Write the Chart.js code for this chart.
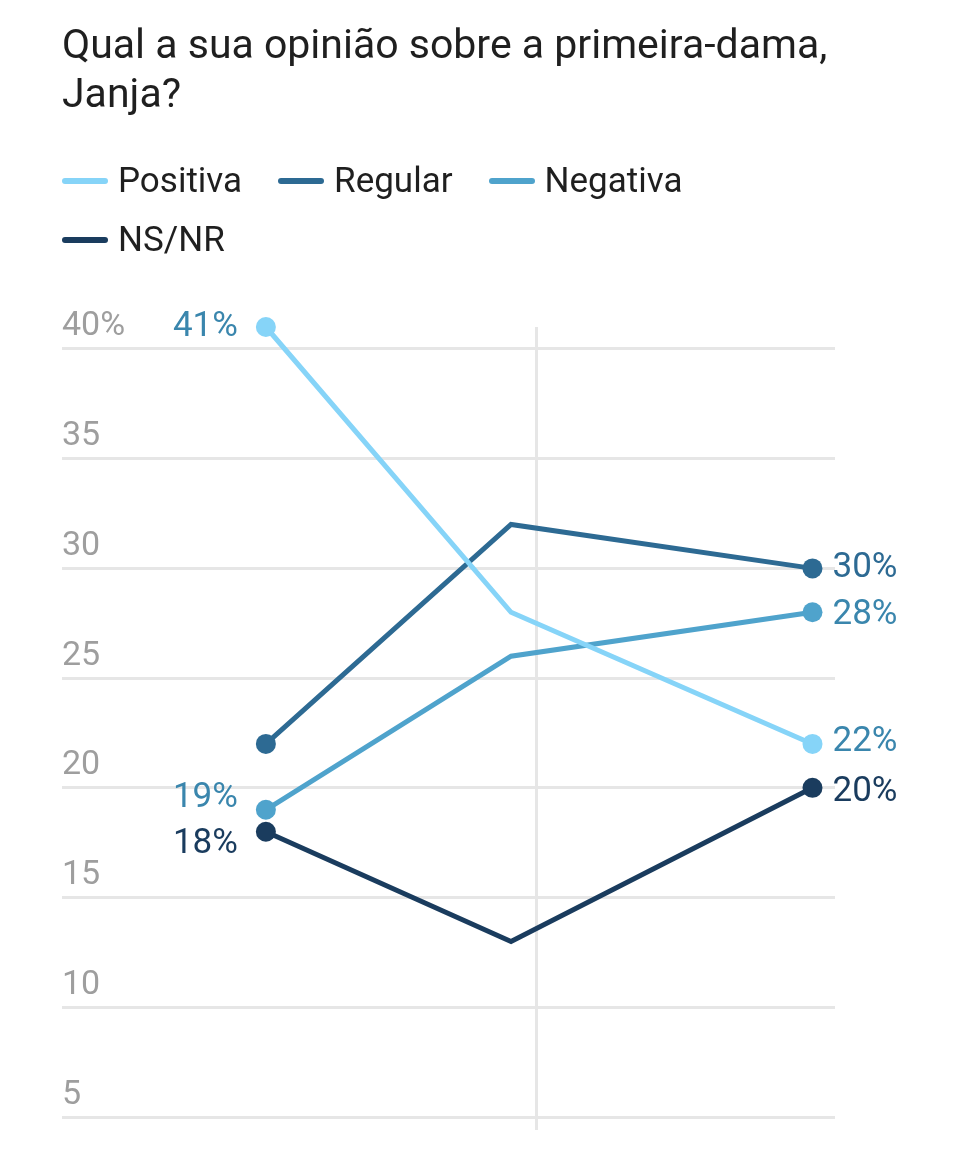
<!DOCTYPE html>
<html lang="pt">
<head>
<meta charset="utf-8">
<title>Opinião sobre a primeira-dama</title>
<script src="https://cdn.jsdelivr.net/npm/chart.js@4.4.1/dist/chart.umd.min.js"></script>
<style>
  html, body { margin: 0; padding: 0; background: #fff; }
  body { width: 960px; height: 1171px; position: relative; overflow: hidden; font-family: Roboto, "Noto Sans", sans-serif; }
  #title { position: absolute; left: 62px; top: 20px; width: 880px; font-size: 41px; line-height: 49px; color: #1f1f1f; margin: 0; font-weight: 400; }
  #legend { position: absolute; left: 62px; top: 151px; width: 880px; }
  .legend-row { height: 59px; display: flex; align-items: center; }
  .legend-item { display: flex; align-items: center; font-size: 35px; color: #1f1f1f; margin-right: 36px; }
  .swatch { width: 46px; height: 6px; border-radius: 3px; margin-right: 10px; }
  #wrap { position: absolute; left: 0; top: 0; width: 960px; height: 1171px; }
</style>
</head>
<body>
<div id="wrap"><canvas id="chart" width="960" height="1171"></canvas></div>
<h1 id="title">Qual a sua opinião sobre a primeira-dama,<br>Janja?</h1>
<div id="legend"></div>

<script>
// ===== Data =====
const seriesNames = ["Positiva", "Regular", "Negativa", "NS/NR"];
const seriesColors = ["#86d4f8", "#2d6a93", "#4fa3cc", "#1a3c5e"];
const labelColors = ["#3a86ad", "#2d6a93", "#3a86ad", "#1a3c5e"];

// survey dates as months counted on the chart's time axis
const surveyMonths = [8.15, 17.95, 30];
const yearBreakMonth = 18.95;

const positiva = [41, 28, 22];
const regular = [22, 32, 30];
const negativa = [19, 26, 28];
const nsnr = [18, 13, 20];
const seriesValues = [positiva, regular, negativa, nsnr];

const yTicks = [5, 10, 15, 20, 25, 30, 35, 40];

// which end labels to show, and small vertical nudges to avoid overlap
const showFirstLabel = [true, false, true, true];
const firstLabelNudge = [0, 0, -12, 13];
const lastLabelNudge = [-2, 0, 3, 4];

// ===== Legend (HTML) =====
const legend = document.getElementById("legend");
const rows = [[0, 1, 2], [3]];
rows.forEach(r => {
    const row = document.createElement("div");
    row.className = "legend-row";
    r.forEach(i => {
        const item = document.createElement("div");
        item.className = "legend-item";
        item.innerHTML = `<span class="swatch" style="background:${seriesColors[i]}"></span>${seriesNames[i]}`;
        row.appendChild(item);
    });
    legend.appendChild(row);
});

// ===== End labels plugin =====
const endLabels = {
    id: "endLabels",
    afterDatasetsDraw(chart) {
        const c = chart.ctx;
        c.save();
        c.font = "35px Roboto, sans-serif";
        c.textBaseline = "middle";
        chart.data.datasets.forEach((ds, i) => {
            const pts = chart.getDatasetMeta(i).data;
            c.fillStyle = labelColors[i];
            if (showFirstLabel[i]) {
                const p = pts[0];
                c.textAlign = "right";
                c.fillText(ds.data[0].y + "%", p.x - 28, p.y + firstLabelNudge[i]);
            }
            const last = pts[pts.length - 1];
            c.textAlign = "left";
            c.fillText(ds.data[ds.data.length - 1].y + "%", last.x + 20, last.y + lastLabelNudge[i]);
        });
        c.restore();
    }
};

const datasets = seriesNames.map((name, i) => ({
    label: name,
    data: surveyMonths.map((m, j) => ({ x: m, y: seriesValues[i][j] })),
    borderColor: seriesColors[i],
    backgroundColor: seriesColors[i],
    borderWidth: 5,
    pointRadius: ctx => (ctx.dataIndex === 1 ? 0 : 10),
    pointHoverRadius: 10,
    pointBorderWidth: 0,
    tension: 0,
    clip: false
}));

new Chart(document.getElementById("chart").getContext("2d"), {
    type: "line",
    data: { datasets },
    options: {
        responsive: false,
        animation: false,
        layout: { padding: { top: 327, right: 125, left: 62, bottom: 41 } },
        scales: {
            x: {
                type: "linear",
                min: 0,
                max: 30.9,
                border: { display: false },
                grid: { color: "#e6e6e6", lineWidth: 3, drawTicks: true, tickLength: 13 },
                ticks: { display: false },
                afterBuildTicks: axis => { axis.ticks = [{ value: yearBreakMonth }]; }
            },
            y: {
                min: 5,
                max: 41,
                border: { display: false },
                grid: { color: "#e6e6e6", lineWidth: 3, drawTicks: false },
                afterBuildTicks: axis => { axis.ticks = yTicks.map(v => ({ value: v })); },
                ticks: {
                    mirror: true,
                    padding: 0,
                    labelOffset: -22,
                    color: "#9e9e9e",
                    font: { family: "Roboto", size: 34 },
                    callback: v => (v === 40 ? "40%" : String(v))
                }
            }
        },
        plugins: {
            legend: { display: false },
            tooltip: { enabled: false }
        }
    },
    plugins: [endLabels]
});
</script>
</body>
</html>
